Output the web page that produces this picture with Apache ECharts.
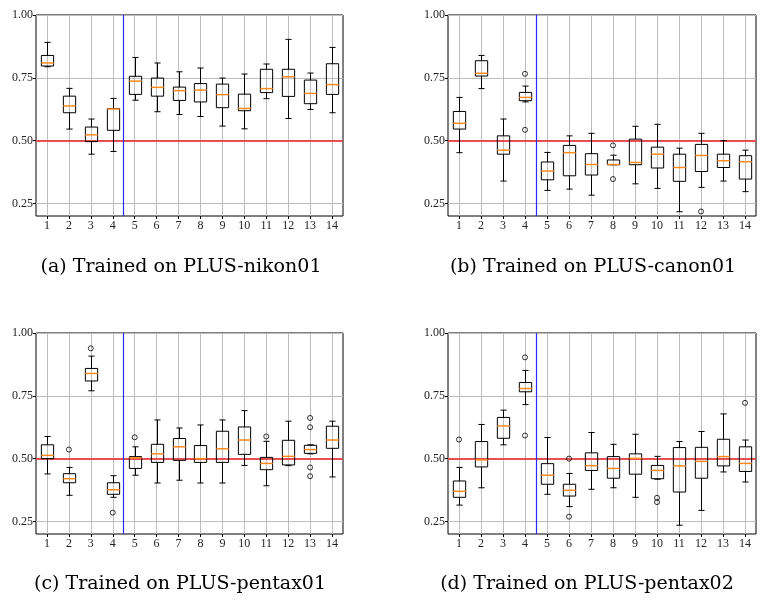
<!DOCTYPE html>
<html>
<head>
<meta charset="utf-8">
<script src="https://cdn.jsdelivr.net/npm/echarts@6/dist/echarts.min.js"></script>
<style>
html,body{margin:0;padding:0;background:#fff;}
#chart{width:766px;height:601px;}
</style>
</head>
<body>
<div id="chart"></div>
<script>
// ---- tick labels / axes ----
const xTicks = [1, 2, 3, 4, 5, 6, 7, 8, 9, 10, 11, 12, 13, 14];
const yTicks = [0.25, 0.50, 0.75, 1.00];
const yMin = 0.2, yMax = 1.0;
const chanceLevel = 0.5;
const splitPosition = 4.5;

const captions = [
  '(a) Trained on PLUS-nikon01',
  '(b) Trained on PLUS-canon01',
  '(c) Trained on PLUS-pentax01',
  '(d) Trained on PLUS-pentax02'
];

// ---- (a) nikon01 ----
const nikonMin = [0.794, 0.546, 0.446, 0.457, 0.661, 0.615, 0.604, 0.596, 0.558, 0.547, 0.667, 0.588, 0.624, 0.611];
const nikonQ1  = [0.797, 0.611, 0.496, 0.541, 0.684, 0.677, 0.660, 0.654, 0.631, 0.619, 0.691, 0.676, 0.647, 0.684];
const nikonMed = [0.809, 0.638, 0.523, 0.626, 0.737, 0.712, 0.699, 0.701, 0.683, 0.628, 0.707, 0.754, 0.688, 0.723];
const nikonQ3  = [0.839, 0.677, 0.554, 0.628, 0.756, 0.749, 0.713, 0.727, 0.725, 0.685, 0.784, 0.784, 0.741, 0.806];
const nikonMax = [0.891, 0.708, 0.586, 0.668, 0.831, 0.809, 0.774, 0.789, 0.749, 0.765, 0.805, 0.903, 0.769, 0.871];
const nikonOut = [];

// ---- (b) canon01 ----
const canonMin = [0.452, 0.707, 0.339, 0.654, 0.302, 0.307, 0.283, 0.404, 0.328, 0.310, 0.217, 0.314, 0.339, 0.297];
const canonQ1  = [0.546, 0.757, 0.446, 0.659, 0.344, 0.360, 0.363, 0.404, 0.404, 0.391, 0.338, 0.377, 0.393, 0.347];
const canonMed = [0.569, 0.768, 0.462, 0.672, 0.379, 0.452, 0.405, 0.405, 0.413, 0.446, 0.393, 0.441, 0.420, 0.416];
const canonQ3  = [0.616, 0.818, 0.519, 0.692, 0.415, 0.481, 0.448, 0.423, 0.506, 0.474, 0.446, 0.485, 0.446, 0.440];
const canonMax = [0.672, 0.839, 0.586, 0.717, 0.453, 0.519, 0.529, 0.442, 0.557, 0.565, 0.470, 0.529, 0.500, 0.462];
const canonOut = [[4, 0.766], [4, 0.543], [8, 0.481], [8, 0.347], [12, 0.218]];

// ---- (c) pentax01 ----
const pentax1Min = [0.439, 0.354, 0.770, 0.346, 0.434, 0.403, 0.414, 0.403, 0.403, 0.473, 0.392, 0.472, 0.519, 0.427];
const pentax1Q1  = [0.500, 0.404, 0.809, 0.358, 0.461, 0.485, 0.493, 0.485, 0.485, 0.517, 0.456, 0.475, 0.521, 0.541];
const pentax1Med = [0.513, 0.420, 0.839, 0.376, 0.503, 0.519, 0.547, 0.500, 0.539, 0.574, 0.481, 0.509, 0.536, 0.574];
const pentax1Q3  = [0.555, 0.440, 0.859, 0.404, 0.508, 0.557, 0.580, 0.552, 0.609, 0.626, 0.505, 0.573, 0.553, 0.629];
const pentax1Max = [0.588, 0.465, 0.908, 0.432, 0.547, 0.654, 0.622, 0.634, 0.654, 0.691, 0.569, 0.649, 0.555, 0.649];
const pentax1Out = [[2, 0.536], [3, 0.939], [4, 0.285], [5, 0.585], [11, 0.588], [13, 0.662], [13, 0.625], [13, 0.465], [13, 0.430]];

// ---- (d) pentax02 ----
const pentax2Min = [0.315, 0.384, 0.555, 0.715, 0.358, 0.309, 0.378, 0.384, 0.346, 0.418, 0.235, 0.294, 0.447, 0.407];
const pentax2Q1  = [0.346, 0.467, 0.581, 0.766, 0.398, 0.351, 0.453, 0.422, 0.438, 0.420, 0.367, 0.422, 0.471, 0.449];
const pentax2Med = [0.370, 0.495, 0.630, 0.779, 0.434, 0.374, 0.472, 0.461, 0.501, 0.453, 0.471, 0.489, 0.508, 0.481];
const pentax2Q3  = [0.411, 0.568, 0.664, 0.803, 0.480, 0.398, 0.523, 0.508, 0.519, 0.473, 0.544, 0.545, 0.577, 0.547];
const pentax2Max = [0.465, 0.636, 0.693, 0.851, 0.584, 0.441, 0.604, 0.557, 0.597, 0.509, 0.568, 0.608, 0.678, 0.574];
const pentax2Out = [[1, 0.576], [4, 0.903], [4, 0.592], [6, 0.500], [6, 0.269], [10, 0.344], [10, 0.327], [14, 0.722]];

// ---- build ----
const panels = [
  {min: nikonMin, q1: nikonQ1, med: nikonMed, q3: nikonQ3, max: nikonMax, out: nikonOut},
  {min: canonMin, q1: canonQ1, med: canonMed, q3: canonQ3, max: canonMax, out: canonOut},
  {min: pentax1Min, q1: pentax1Q1, med: pentax1Med, q3: pentax1Q3, max: pentax1Max, out: pentax1Out},
  {min: pentax2Min, q1: pentax2Q1, med: pentax2Med, q3: pentax2Q3, max: pentax2Max, out: pentax2Out}
];

const gridPos = [
  {left: 36, top: 15, width: 307, height: 201},
  {left: 448, top: 15, width: 308, height: 201},
  {left: 36, top: 333, width: 307, height: 201},
  {left: 448, top: 333, width: 308, height: 201}
];
const captionPos = [[181, 267], [593, 267], [180, 584], [587, 584]];

const labelFont = 'Liberation Serif';
const gridColor = '#bdbdbd';

function renderBox(params, api) {
  const x = api.value(0);
  const lo = api.coord([x, api.value(1)]);
  const q1 = api.coord([x, api.value(2)]);
  const md = api.coord([x, api.value(3)]);
  const q3 = api.coord([x, api.value(4)]);
  const hi = api.coord([x, api.value(5)]);
  const unit = api.size([1, 0])[0];
  const hw = unit * 0.28;
  const cw = hw / 2;
  const cx = Math.round(lo[0]) + 0.5;
  const blk = {stroke: '#000', lineWidth: 1, fill: null};
  return {
    type: 'group',
    children: [
      {type: 'line', shape: {x1: cx, y1: lo[1], x2: cx, y2: q1[1]}, style: blk},
      {type: 'line', shape: {x1: cx, y1: q3[1], x2: cx, y2: hi[1]}, style: blk},
      {type: 'line', shape: {x1: cx - cw, y1: lo[1], x2: cx + cw, y2: lo[1]}, style: blk},
      {type: 'line', shape: {x1: cx - cw, y1: hi[1], x2: cx + cw, y2: hi[1]}, style: blk},
      {type: 'rect', shape: {x: cx - hw, y: q3[1], width: hw * 2, height: q1[1] - q3[1]}, style: {stroke: '#000', lineWidth: 1, fill: 'rgba(0,0,0,0)'}},
      {type: 'line', shape: {x1: cx - hw, y1: md[1], x2: cx + hw, y2: md[1]}, style: {stroke: '#ff8a1e', lineWidth: 1.5}}
    ]
  };
}

const option = {
  animation: false,
  backgroundColor: '#fff',
  grid: gridPos.map(g => Object.assign({show: true, borderColor: '#000', borderWidth: 1, backgroundColor: 'rgba(0,0,0,0)', containLabel: false}, g)),
  xAxis: gridPos.map((g, i) => ({
    type: 'value', gridIndex: i, min: 0.5, max: 14.5,
    axisLine: {show: false},
    axisTick: {show: true, customValues: xTicks, length: 3, lineStyle: {color: '#000'}},
    axisLabel: {customValues: xTicks, fontFamily: labelFont, fontSize: 12, color: '#222', margin: 4},
    splitLine: {show: true, lineStyle: {color: gridColor, width: 1}}
  })),
  yAxis: gridPos.map((g, i) => ({
    type: 'value', gridIndex: i, min: yMin, max: yMax,
    axisLine: {show: false},
    axisTick: {show: true, customValues: yTicks, length: 3, lineStyle: {color: '#000'}},
    axisLabel: {customValues: yTicks, fontFamily: labelFont, fontSize: 12, color: '#222', margin: 3,
      formatter: v => Number(v).toFixed(2)},
    splitLine: {show: true, lineStyle: {color: gridColor, width: 1}}
  })),
  series: [],
  graphic: captions.map((t, i) => ({
    type: 'text', x: captionPos[i][0], y: captionPos[i][1],
    style: {text: t, fontFamily: 'DejaVu Serif', fontSize: 19, fill: '#000', textAlign: 'center', textVerticalAlign: 'middle'}
  }))
};

panels.forEach((p, i) => {
  const rows = xTicks.map((pos, k) => [pos, p.min[k], p.q1[k], p.med[k], p.q3[k], p.max[k]]);
  option.series.push({
    type: 'custom', xAxisIndex: i, yAxisIndex: i,
    renderItem: renderBox,
    encode: {x: 0, y: [1, 2, 3, 4, 5]},
    data: rows, z: 3, clip: true,
    markLine: {
      silent: true, symbol: 'none', label: {show: false}, z: 2,
      data: [
        {yAxis: chanceLevel, lineStyle: {color: '#e84040', width: 2, type: 'solid', opacity: 0.9}},
        {xAxis: splitPosition, lineStyle: {color: '#2a2aff', width: 1.2, type: 'solid'}}
      ]
    }
  });
  option.series.push({
    type: 'scatter', xAxisIndex: i, yAxisIndex: i,
    data: p.out, symbol: 'circle', symbolSize: 5, z: 4,
    itemStyle: {color: 'rgba(0,0,0,0)', borderColor: '#000', borderWidth: 1}
  });
});

const chart = echarts.init(document.getElementById('chart'), null, {renderer: 'canvas'});
chart.setOption(option);
</script>
</body>
</html>
